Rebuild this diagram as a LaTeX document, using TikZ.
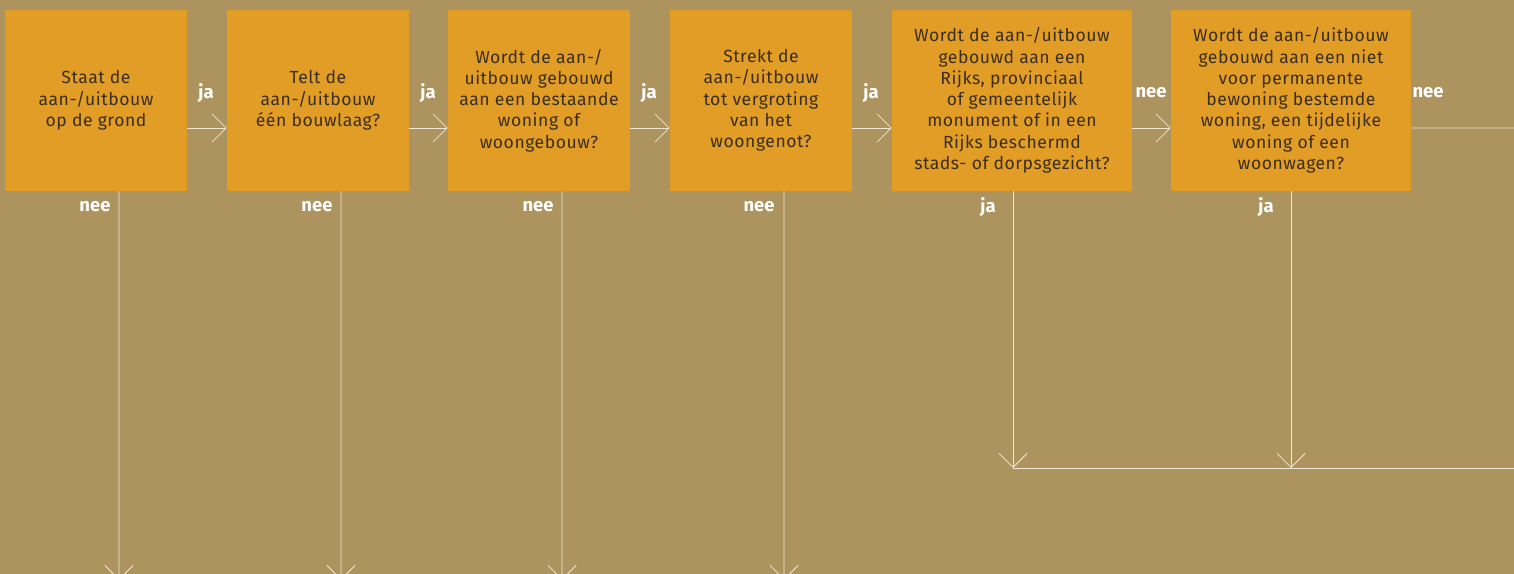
\documentclass[tikz,border=0pt]{standalone}
\usepackage{fontspec}
\setmainfont{Fira Sans}
\usetikzlibrary{arrows.meta}
\definecolor{bgbrown}{RGB}{173,147,94}
\definecolor{boxorange}{RGB}{226,157,38}
\definecolor{textdark}{RGB}{58,46,30}
\definecolor{linecream}{RGB}{240,232,214}

\begin{document}
\begin{tikzpicture}[x=0.02cm,y=-0.02cm]

      \fill[bgbrown] (0,0) rectangle (1514,574);
      \useasboundingbox (0,0) rectangle (1514,574);

      \begin{scope}[every node/.style={fill=boxorange, text=textdark, align=center,
          minimum height=3.62cm, inner sep=0pt,
          font=\fontsize{10}{12.1}\selectfont\addfontfeature{LetterSpace=3}}]
        \node[minimum width=3.64cm] (q1) at (96,100.5)  {Staat de\\aan-/uitbouw\\op de grond};
        \node[minimum width=3.64cm] (q2) at (318,100.5) {Telt de\\aan-/uitbouw\\één bouwlaag?};
        \node[minimum width=3.64cm] (q3) at (539,100.5) {Wordt de aan-/\\uitbouw gebouwd\\aan een bestaande\\woning of\\woongebouw?};
        \node[minimum width=3.64cm] (q4) at (761,100.5) {Strekt de\\aan-/uitbouw\\tot vergroting\\van het\\woongenot?};
        \node[minimum width=4.8cm]  (q5) at (1012,100.5) {Wordt de aan-/uitbouw\\gebouwd aan een\\Rijks, provinciaal\\of gemeentelijk\\monument of in een\\Rijks beschermd\\stads- of dorpsgezicht?};
        \node[minimum width=4.8cm]  (q6) at (1291,100.5) {Wordt de aan-/uitbouw\\gebouwd aan een niet\\voor permanente\\bewoning bestemde\\woning, een tijdelijke\\woning of een\\woonwagen?};
      \end{scope}

      % free ends
      \coordinate (e1) at (119,580);
      \coordinate (e2) at (341,580);
      \coordinate (e3) at (562,580);
      \coordinate (e4) at (784,580);
      \coordinate (m5) at (1013,468);
      \coordinate (m6) at (1291,468);
      \coordinate (mout) at (1514,468);
      \coordinate (out6) at (1514,128);

      \begin{scope}[every path/.style={draw=linecream, line width=0.45pt},
          flow/.style={-{Straight Barb[length=0.28cm,width=0.56cm]}}]
        \path[flow] ([yshift=-0.55cm]q1.east) -- ([yshift=-0.55cm]q2.west);
        \path[flow] ([yshift=-0.55cm]q2.east) -- ([yshift=-0.55cm]q3.west);
        \path[flow] ([yshift=-0.55cm]q3.east) -- ([yshift=-0.55cm]q4.west);
        \path[flow] ([yshift=-0.55cm]q4.east) -- ([yshift=-0.55cm]q5.west);
        \path[flow] ([yshift=-0.55cm]q5.east) -- ([yshift=-0.55cm]q6.west);
        \path ([yshift=-0.55cm]q6.east) -- (out6);
        \path[flow] ([xshift=0.46cm]q1.south) -- (e1);
        \path[flow] ([xshift=0.46cm]q2.south) -- (e2);
        \path[flow] ([xshift=0.46cm]q3.south) -- (e3);
        \path[flow] ([xshift=0.46cm]q4.south) -- (e4);
        \path[flow] (q5.south -| m5) -- (m5);
        \path[flow] (q6.south) -- (m6);
        \path (m5) -- (mout);
      \end{scope}

      \begin{scope}[every node/.style={text=white, font=\fontsize{10.5}{12}\selectfont\bfseries}]
        \node (ja1) at (206,93) {ja};
        \node (ja2) at (428,93) {ja};
        \node (ja3) at (649,93) {ja};
        \node (ja4) at (871,93) {ja};
        \node (nee5) at (1151,93) {nee};
        \node (nee6) at (1428,93) {nee};
        \node (nee1) at (95,207) {nee};
        \node (nee2) at (317,207) {nee};
        \node (nee3) at (538,207) {nee};
        \node (nee4) at (759,207) {nee};
        \node (ja5) at (988,207) {ja};
        \node (ja6) at (1266,207) {ja};
      \end{scope}

    \end{tikzpicture}
\end{document}
